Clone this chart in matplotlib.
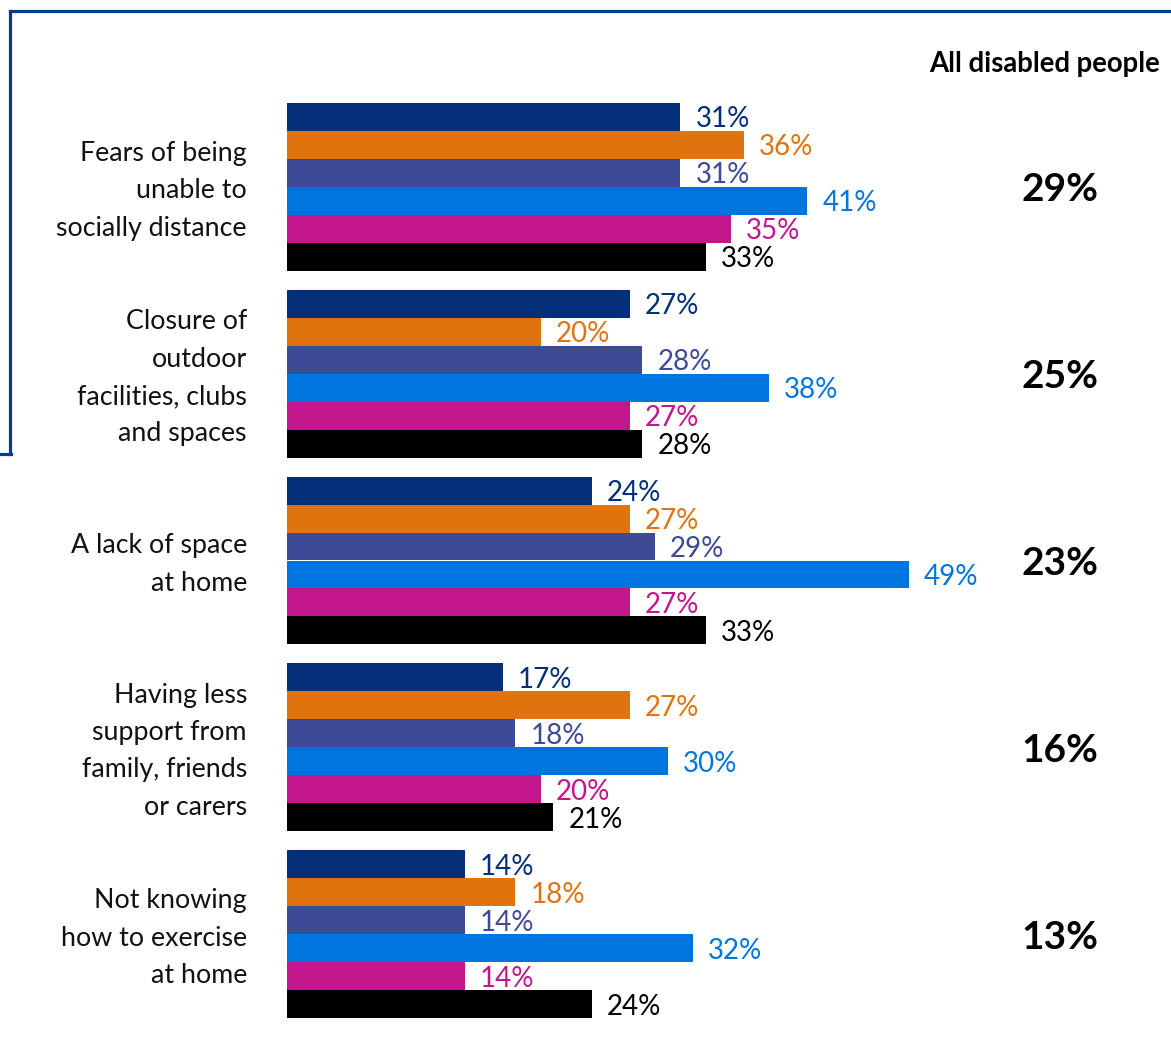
import matplotlib
matplotlib.use("Agg")
import matplotlib.pyplot as plt
from matplotlib.lines import Line2D

plt.rcParams['font.family'] = ['Lato', 'DejaVu Sans']

categories = [
    "Fears of being\nunable to\nsocially distance",
    "Closure of\noutdoor\nfacilities, clubs\nand spaces",
    "A lack of space\nat home",
    "Having less\nsupport from\nfamily, friends\nor carers",
    "Not knowing\nhow to exercise\nat home",
]
series_names = ["Group 1", "Group 2", "Group 3", "Group 4", "Group 5", "Group 6"]
values = [
    [31, 36, 31, 41, 35, 33],
    [27, 20, 28, 38, 27, 28],
    [24, 27, 29, 49, 27, 33],
    [17, 27, 18, 30, 20, 21],
    [14, 18, 14, 32, 14, 24],
]
all_disabled = [29, 25, 23, 16, 13]
colors = ["#032E78", "#E1730E", "#3D4A96", "#0075E0", "#C4168C", "#000000"]

W, H = 1171, 1045
fig = plt.figure(figsize=(W / 100, H / 100), dpi=100)

# axes geometry in pixels
x0_px, x1_px = 287, 1171
top_px, bot_px = 103, 1018
px_per_pct = 12.69
ax = fig.add_axes([x0_px / W, 1 - bot_px / H, (x1_px - x0_px) / W, (bot_px - top_px) / H])
xmax = (x1_px - x0_px) / px_per_pct
ax.set_xlim(0, xmax)

nser = len(series_names)
group_step = 6.67
ymax = (len(categories) - 1) * group_step + nser
ax.set_ylim(ymax, 0)
ax.axis('off')

unit_px = (bot_px - top_px) / ymax
for g, cat in enumerate(categories):
    base = g * group_step
    for i in range(nser):
        v = values[g][i]
        yc = base + i + 0.5
        ax.barh(yc, v, height=1.0, color=colors[i], edgecolor='none')
        ax.text(v + 15 / px_per_pct, yc + 2.5 / unit_px, f"{v}%", color=colors[i], fontsize=20,
                va='center', ha='left')
    gc = base + nser / 2
    ax.text(-40 / px_per_pct, gc + 4 / unit_px, cat, ha='right', va='center', fontsize=19.3,
            linespacing=1.62, color='#111111', clip_on=False)
    ax.text((1060 - x0_px) / px_per_pct, gc + 3 / unit_px, f"{all_disabled[g]}%",
            ha='center', va='center', fontsize=28, fontweight='bold', color='black')

fig.text(1160 / W, 1 - 64 / H, "All disabled people", ha='right', va='center',
         fontsize=19.8, fontweight='bold', color='black')

# frame lines
bc = "#0B3A87"
fig.add_artist(Line2D([9.5 / W, 1.0], [1 - 11 / H, 1 - 11 / H], color=bc, lw=2.3,
                      transform=fig.transFigure))
fig.add_artist(Line2D([9.5 / W, 9.5 / W], [1 - 11 / H, 1 - 454 / H], color=bc, lw=2.3,
                      transform=fig.transFigure))
fig.add_artist(Line2D([0, 10.5 / W], [1 - 454 / H, 1 - 454 / H], color=bc, lw=2.3,
                      transform=fig.transFigure))

fig.savefig("out.png", dpi=100, facecolor='white')
